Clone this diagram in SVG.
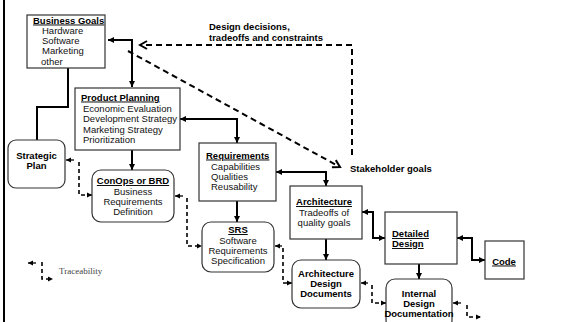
<svg xmlns="http://www.w3.org/2000/svg" width="573" height="322" viewBox="0 0 573 322">
<style>
.box{fill:#fff;stroke:#333;stroke-width:1.2}
.t{font-family:"Liberation Sans",Arial,sans-serif;font-size:9.5px;fill:#111}
.b{font-family:"Liberation Sans",Arial,sans-serif;font-size:9.5px;font-weight:bold;fill:#000}
.u{text-decoration:underline}
.c{text-anchor:middle}
.conn{fill:none;stroke:#000;stroke-width:2}
.trace{fill:none;stroke:#000;stroke-width:1.6;stroke-dasharray:4 3}
.tarr{fill:none;stroke:#000;stroke-width:1.3}
.big{fill:none;stroke:#000;stroke-width:2;stroke-dasharray:6 4}
</style>
<defs>
<marker id="ah" markerUnits="userSpaceOnUse" markerWidth="7" markerHeight="6" refX="6" refY="3" orient="auto-start-reverse">
<path d="M0,0 L6,3 L0,6 z" fill="#000"/>
</marker>
<marker id="sh" markerUnits="userSpaceOnUse" markerWidth="6" markerHeight="6" refX="5" refY="3" orient="auto">
<path d="M0,0.5 L5,3 L0,5.5 z" fill="#000"/>
</marker>
<marker id="open" markerUnits="userSpaceOnUse" markerWidth="10" markerHeight="10" refX="8" refY="5" orient="auto">
<path d="M1,1 L8,5 L1,9" fill="none" stroke="#000" stroke-width="2"/>
</marker>
</defs>
<rect width="573" height="322" fill="#fff"/>
<line x1="4" y1="0" x2="4" y2="322" stroke="#000" stroke-width="2"/>

<g id="connectors">
<path class="conn" d="M108 40 H132 V87" marker-start="url(#ah)" marker-end="url(#ah)"/>
<path class="conn" d="M68 68 V107 H37 V140"/>
<path class="conn" d="M132 150 V170" marker-end="url(#ah)"/>
<path class="conn" d="M180 119 H237 V143" marker-start="url(#ah)" marker-end="url(#ah)"/>
<path class="conn" d="M237 201 V222" marker-end="url(#ah)"/>
<path class="conn" d="M276 172 H326 V186" marker-start="url(#ah)" marker-end="url(#ah)"/>
<path class="conn" d="M326 239 V260" marker-end="url(#ah)"/>
<path class="conn" d="M362 212 H373 V238 H385" marker-start="url(#ah)" marker-end="url(#ah)"/>
<path class="conn" d="M419 264 V279" marker-end="url(#ah)"/>
<path class="conn" d="M457 238 H472 V260 H485" marker-start="url(#ah)" marker-end="url(#ah)"/>

<path class="big" d="M352 155 V45 H140" marker-end="url(#open)"/>
<path class="big" d="M128 51 L340 167" marker-end="url(#open)"/>

<path class="tarr" d="M74 160 H66" marker-end="url(#sh)"/>
<path class="trace" d="M79 162 V195 H92" marker-end="url(#sh)"/>
<path class="tarr" d="M183 196 H175" marker-end="url(#sh)"/>
<path class="trace" d="M187 198 V246 H202" marker-end="url(#sh)"/>
<path class="tarr" d="M282 246 H275" marker-end="url(#sh)"/>
<path class="trace" d="M283 248 V283 H292" marker-end="url(#sh)"/>
<path class="tarr" d="M368 283 H361" marker-end="url(#sh)"/>
<path class="trace" d="M372 285 V303 H386" marker-end="url(#sh)"/>
<path class="tarr" d="M461 303 H453" marker-end="url(#sh)"/>
<path class="trace" d="M467 305 V317 H481" marker-end="url(#sh)"/>
</g>

<g id="business-goals">
<rect class="box" x="27" y="15" width="78" height="53"/>
<text class="b u" x="33" y="23.5">Business Goals</text>
<text class="t" x="42" y="33.5">Hardware</text>
<text class="t" x="42" y="43.5">Software</text>
<text class="t" x="42" y="54">Marketing</text>
<text class="t" x="41" y="64.5">other</text>
</g>

<g id="product-planning">
<rect class="box" x="75" y="88" width="105" height="62"/>
<text class="b u" x="81" y="100.5">Product Planning</text>
<text class="t" x="83" y="111.5">Economic Evaluation</text>
<text class="t" x="83" y="122">Development Strategy</text>
<text class="t" x="83" y="132.5">Marketing Strategy</text>
<text class="t" x="83" y="142.5">Prioritization</text>
</g>

<g id="strategic-plan">
<rect class="box" x="8" y="140" width="57" height="48" rx="8"/>
<text class="b c" x="36.5" y="158.5">Strategic</text>
<text class="b c" x="36.5" y="168.5">Plan</text>
</g>

<g id="conops">
<rect class="box" x="92" y="170" width="82" height="52" rx="9"/>
<text class="b u c" x="133" y="184">ConOps or BRD</text>
<text class="t c" x="133" y="194.5">Business</text>
<text class="t c" x="133" y="204.5">Requirements</text>
<text class="t c" x="133" y="214.5">Definition</text>
</g>

<g id="requirements">
<rect class="box" x="199" y="143" width="77" height="58"/>
<text class="b u" x="206" y="158.5">Requirements</text>
<text class="t" x="211" y="169.5">Capabilities</text>
<text class="t" x="211" y="180">Qualities</text>
<text class="t" x="211" y="190">Reusability</text>
</g>

<g id="srs">
<rect class="box" x="202" y="222" width="72" height="50" rx="9"/>
<text class="b u c" x="238" y="233">SRS</text>
<text class="t c" x="238" y="243.5">Software</text>
<text class="t c" x="238" y="253.5">Requirements</text>
<text class="t c" x="238" y="263.5">Specification</text>
</g>

<g id="architecture">
<rect class="box" x="290" y="186" width="72" height="53"/>
<text class="b u c" x="324" y="205">Architecture</text>
<text class="t c" x="324" y="215.5">Tradeoffs of</text>
<text class="t c" x="324" y="225.5">quality goals</text>
</g>

<g id="architecture-design-documents">
<rect class="box" x="292" y="260" width="68" height="48" rx="9"/>
<text class="b c" x="326" y="276.5">Architecture</text>
<text class="b c" x="326" y="286.5">Design</text>
<text class="b c" x="326" y="296.5">Documents</text>
</g>

<g id="detailed-design">
<rect class="box" x="385" y="212" width="72" height="52"/>
<text class="b u" x="392" y="237">Detailed</text>
<text class="b u" x="392" y="247">Design</text>
</g>

<g id="code">
<rect class="box" x="485" y="241" width="39" height="38"/>
<text class="b u c" x="504" y="264.5">Code</text>
</g>

<g id="internal-design-documentation">
<rect class="box" x="386" y="279" width="66" height="50" rx="9"/>
<text class="b c" x="419" y="296.5">Internal</text>
<text class="b c" x="419" y="306.5">Design</text>
<text class="b c" x="419" y="316.5">Documentation</text>
</g>

<g id="labels">
<text class="b" x="209" y="29.5">Design decisions,</text>
<text class="b" x="209" y="40.5">tradeoffs and constraints</text>
<text class="b" x="350" y="171.5">Stakeholder goals</text>
</g>

<g id="legend">
<path class="tarr" d="M36 263 H28" marker-end="url(#sh)"/>
<path class="trace" d="M42 262 V279 H53" marker-end="url(#sh)"/>
<text x="59" y="274" font-family="'Liberation Serif','Times New Roman',serif" font-size="9px" fill="#444">Traceability</text>
</g>
</svg>
